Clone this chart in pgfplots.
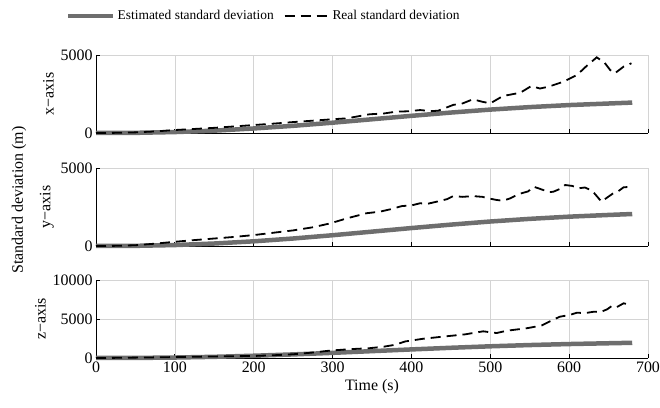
\documentclass[border=0pt]{standalone}
\usepackage{pgfplots}
\pgfplotsset{compat=1.18}
\usepackage{fontspec}
\setmainfont{Liberation Serif}
\definecolor{estgray}{RGB}{110,110,110}
\definecolor{gridgray}{RGB}{212,212,212}
\pgfplotsset{
  panel/.style={
    scale only axis, width=552bp, height=78bp, anchor=south west,
    xmin=0, xmax=700, ymin=0,
    xtick={0,100,...,700},
    axis x line*=bottom, axis y line*=left,
    axis line style={-, line width=0.8pt},
    tick align=inside, major tick length=4bp,
    tick style={black, line width=0.8pt},
    grid=major, major grid style={gridgray, line width=0.6pt},
    scaled y ticks=false,
    /pgf/number format/assume math mode=true,
    /pgf/number format/set thousands separator={},
    tick label style={font=\fontsize{16}{18}\selectfont},
    label style={font=\fontsize{16}{18}\selectfont},
    clip=false,
  },
  est/.style={estgray, line width=4.5bp, no markers},
  real/.style={black, line width=1.8bp, dash pattern=on 10bp off 6bp, no markers},
}
\begin{document}
\begin{tikzpicture}
\useasboundingbox (0,0) rectangle (660bp,408bp);

% x-axis panel
\begin{axis}[panel, at={(96bp,275bp)}, ymax=5000, ytick={0,5000},
  xticklabels={}, ylabel={x−axis},
  legend style={at={(rel axis cs:0.304,1.5)}, anchor=center, draw=none, fill=none,
    legend columns=2, font=\fontsize{13.5}{15}\selectfont,
    /tikz/every even column/.append style={column sep=8bp}},
  legend image code/.code={\draw[#1] (0bp,0bp) -- (45bp,0bp);},
]
\addplot[est] coordinates {
(0,0) (50,10) (100,60) (150,150) (200,290) (250,460) (300,660) (350,880)
(400,1100) (450,1310) (500,1500) (550,1660) (600,1790) (650,1890) (680,1950)};
\addplot[real] coordinates {
(0,0) (25,10) (50,40) (75,100) (100,190) (125,260) (150,330) (175,420)
(200,510) (225,600) (250,700) (275,790) (300,880) (318,940) (347,1200)
(365,1250) (381,1370) (395,1390) (411,1470) (425,1400) (434,1430) (453,1800)
(465,1900) (478,2160) (490,2000) (500,1900) (516,2370) (538,2580) (552,3010)
(563,2850) (574,2970) (593,3290) (610,3720) (622,4290) (635,4850) (645,4500)
(652,4040) (658,3830) (669,4250) (679,4470)};
\legend{Estimated standard deviation, Real standard deviation}
\end{axis}

% y-axis panel
\begin{axis}[panel, at={(96bp,162bp)}, ymax=5000, ytick={0,5000},
  xticklabels={}, ylabel={y−axis}]
\addplot[est] coordinates {
(0,0) (50,10) (100,60) (150,160) (200,300) (250,480) (300,690) (350,920)
(400,1150) (450,1370) (500,1570) (550,1740) (600,1880) (650,1990) (680,2050)};
\addplot[real] coordinates {
(0,0) (25,10) (50,50) (75,150) (100,270) (125,380) (150,480) (175,580)
(200,700) (225,850) (250,1000) (275,1200) (297,1450) (318,1770) (343,2100)
(360,2200) (373,2350) (388,2560) (400,2600) (411,2740) (420,2700) (432,2840)
(445,3000) (453,3200) (465,3150) (478,3200) (490,3150) (498,3050) (508,2950)
(516,2900) (525,3050) (536,3330) (548,3500) (555,3800) (561,3700) (567,3590)
(575,3450) (580,3480) (588,3650) (595,3910) (604,3850) (612,3700) (620,3750)
(629,3550) (635,3200) (641,2840) (648,3100) (656,3380) (662,3500) (669,3760)
(679,3800)};
\end{axis}

% z-axis panel
\begin{axis}[panel, at={(96bp,50bp)}, ymax=10000, ytick={0,5000,10000},
  ylabel={z−axis}, xlabel={Time (s)}]
\addplot[est] coordinates {
(0,0) (50,10) (100,60) (150,150) (200,290) (250,460) (300,660) (350,880)
(400,1100) (450,1310) (500,1500) (550,1660) (600,1790) (650,1890) (680,1950)};
\addplot[real] coordinates {
(0,0) (25,20) (50,50) (75,80) (100,120) (125,160) (150,200) (175,230)
(200,260) (225,350) (250,480) (275,700) (297,950) (322,1130) (347,1260)
(365,1450) (379,1690) (392,2120) (415,2470) (443,2770) (468,3030) (491,3420)
(508,3200) (521,3500) (546,3810) (565,4160) (576,4720) (588,5290) (600,5500)
(610,5810) (620,5750) (631,5930) (640,5900) (648,6230) (654,6660) (660,6500)
(669,7010) (679,6800)};
\end{axis}

\node[rotate=90, font=\fontsize{16}{18}\selectfont] at (19bp,208bp) {Standard deviation (m)};
\end{tikzpicture}
\end{document}
